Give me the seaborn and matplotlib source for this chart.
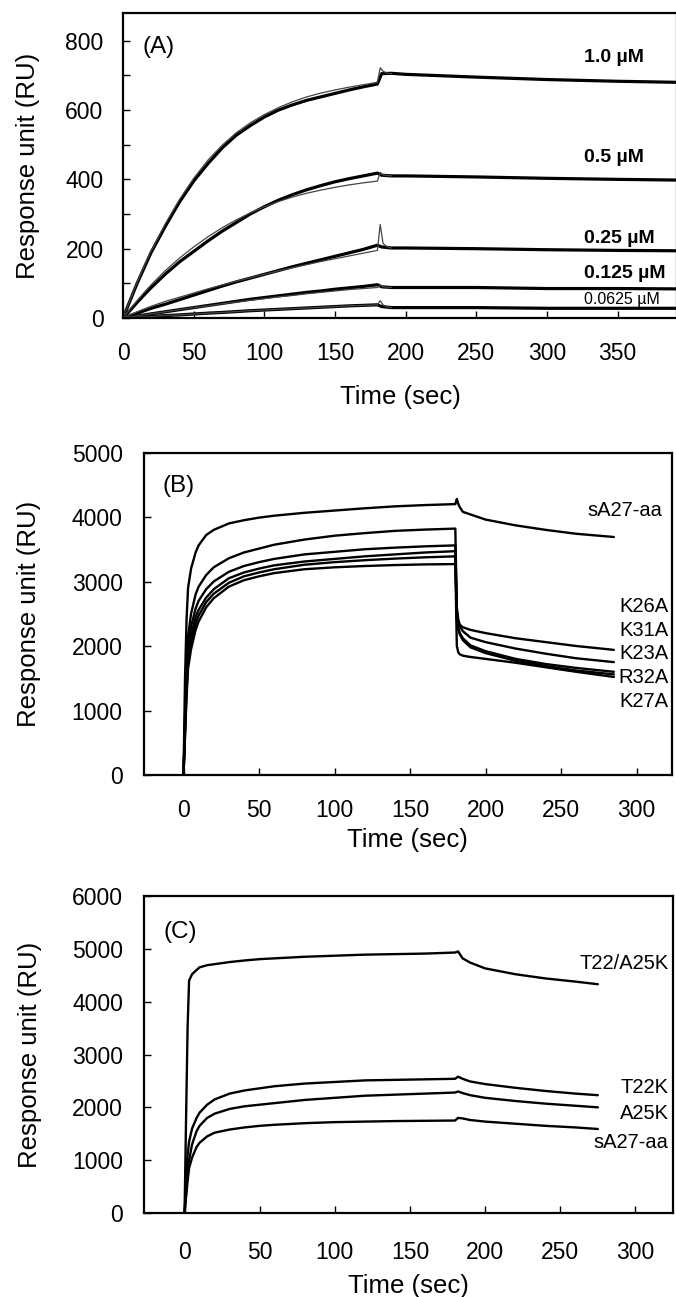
import matplotlib
matplotlib.use("Agg")
import matplotlib.pyplot as plt
import seaborn as sns
from matplotlib.ticker import MultipleLocator

# ---- panel A: concentration series (thick = sensorgram, thin = fit) ----
a_time = [0, 5, 10, 15, 20, 30, 40, 50, 60, 70, 80, 90, 100, 110, 120, 130, 140,
          150, 160, 170, 180, 183, 190, 200, 250, 300, 350, 392]
a_1000 = [0, 50, 100, 145, 190, 265, 335, 395, 445, 490, 527, 555, 580, 600, 615, 628,
          638, 648, 658, 667, 675, 705, 706, 703, 695, 688, 683, 680]
a_500 = [0, 22, 45, 67, 88, 127, 162, 192, 222, 250, 275, 300, 321, 340, 356, 370,
         382, 393, 402, 410, 418, 412, 410, 410, 407, 403, 400, 398]
a_250 = [0, 7, 14, 21, 28, 40, 53, 66, 79, 92, 104, 115, 126, 137, 148, 158,
         168, 178, 188, 198, 210, 205, 202, 202, 200, 197, 195, 194]
a_125 = [0, 3, 6, 9, 12, 18, 24, 30, 36, 42, 48, 54, 59, 64, 69, 74,
         78, 83, 87, 91, 96, 90, 88, 88, 88, 85, 85, 84]
a_0625 = [0, 1, 2, 3, 4.5, 7, 9, 11.5, 14, 16, 18.5, 21, 23, 25, 27, 29,
          31, 33, 35, 36.5, 38, 33, 30, 30, 30, 28, 28, 28]

a_fit_time = [0, 5, 10, 15, 20, 30, 40, 50, 60, 70, 80, 90, 100, 110, 120, 130, 140,
              150, 160, 170, 180, 182, 184, 187, 190]
a_fit_1000 = [0, 52, 103, 150, 194, 272, 342, 403, 455, 498, 534, 563, 587, 607, 624,
              638, 649, 658, 666, 673, 680, 722, 712, 706, 705]
a_fit_500 = [0, 25, 50, 74, 96, 137, 173, 205, 234, 260, 283, 303, 321, 336, 349,
             360, 369, 377, 384, 390, 395, 420, 413, 411, 410]
a_fit_250 = [0, 9, 18, 26, 34, 48, 60, 72, 84, 95, 106, 116, 126, 136, 145,
             154, 163, 171, 179, 187, 195, 270, 215, 205, 202]
a_fit_125 = [0, 3, 6, 9, 12, 18, 24, 30, 35, 41, 46, 51, 56, 61, 65,
             70, 74, 78, 82, 85, 88, 95, 90, 89, 88]
a_fit_0625 = [0, 1, 2, 3, 4.5, 7, 9, 11.5, 14, 16, 18.5, 21, 23, 25, 27,
              29, 31, 33, 35, 36.5, 38, 50, 38, 32, 30]

a_labels = ["1.0 \u00b5M", "0.5 \u00b5M", "0.25 \u00b5M", "0.125 \u00b5M", "0.0625 \u00b5M"]
a_label_y = [751, 463, 230, 127, 52]

# ---- panel B: alanine mutants ----
b_time = [0, 1, 2, 3, 5, 8, 10, 15, 20, 30, 40, 50, 60, 80, 100, 120, 140, 160, 180,
          181, 182, 183, 185, 190, 200, 220, 240, 260, 285]
b_sa27 = [0, 1500, 2400, 2900, 3200, 3450, 3560, 3720, 3800, 3900, 3950, 3990, 4020,
          4065, 4100, 4135, 4165, 4185, 4200,
          4280, 4200, 4150, 4080, 4040, 3960, 3870, 3800, 3740, 3690]
b_k26a = [0, 900, 1700, 2150, 2500, 2800, 2920, 3100, 3220, 3360, 3450, 3510, 3570,
          3650, 3710, 3750, 3785, 3805, 3820,
          2600, 2400, 2330, 2290, 2250, 2200, 2120, 2060, 2000, 1940]
b_k31a = [0, 800, 1550, 2000, 2300, 2580, 2700, 2880, 3000, 3150, 3240, 3300, 3350,
          3420, 3460, 3500, 3525, 3545, 3560,
          2550, 2380, 2300, 2230, 2130, 2060, 1960, 1880, 1810, 1750]
b_k23a = [0, 700, 1400, 1850, 2150, 2450, 2560, 2750, 2880, 3050, 3140, 3200, 3250,
          3310, 3350, 3390, 3420, 3450, 3470,
          2450, 2280, 2200, 2120, 2010, 1920, 1800, 1720, 1660, 1600]
b_r32a = [0, 650, 1300, 1750, 2050, 2350, 2470, 2680, 2810, 2980, 3080, 3140, 3190,
          3260, 3300, 3330, 3355, 3375, 3390,
          2400, 2250, 2180, 2090, 1980, 1890, 1770, 1690, 1620, 1560]
b_k27a = [0, 600, 1200, 1650, 1950, 2250, 2380, 2600, 2740, 2920, 3020, 3080, 3130,
          3190, 3220, 3240, 3255, 3265, 3270,
          2000, 1900, 1870, 1850, 1830, 1800, 1740, 1670, 1600, 1520]
b_labels = ["sA27-aa", "K26A", "K31A", "K23A", "R32A", "K27A"]
b_label_y = [4100, 2605, 2248, 1876, 1504, 1132]

# ---- panel C: lysine substitutions ----
c_time = [0, 1, 2, 3, 5, 8, 10, 15, 20, 30, 40, 50, 60, 80, 100, 120, 140, 160, 180,
          182, 185, 190, 200, 220, 240, 260, 275]
c_t22a25k = [0, 1800, 3500, 4400, 4520, 4600, 4650, 4690, 4710, 4750, 4780, 4805, 4820,
             4850, 4870, 4890, 4900, 4910, 4930,
             4950, 4820, 4740, 4630, 4520, 4440, 4380, 4330]
c_t22k = [0, 600, 1100, 1350, 1600, 1800, 1900, 2050, 2150, 2260, 2320, 2360, 2400,
          2450, 2480, 2510, 2520, 2530, 2540,
          2580, 2540, 2490, 2440, 2370, 2310, 2260, 2230]
c_a25k = [0, 400, 800, 1000, 1300, 1550, 1650, 1800, 1880, 1970, 2020, 2050, 2080,
          2140, 2180, 2220, 2240, 2260, 2280,
          2300, 2270, 2230, 2180, 2120, 2070, 2030, 2000]
c_sa27 = [0, 300, 600, 850, 1050, 1250, 1330, 1450, 1520, 1580, 1620, 1650, 1670,
          1700, 1720, 1730, 1740, 1745, 1750,
          1800, 1790, 1760, 1730, 1690, 1650, 1620, 1590]
c_labels = ["T22/A25K", "T22K", "A25K", "sA27-aa"]
c_label_y = [4720, 2380, 1880, 1340]

sns.set_theme(style="ticks")
plt.rcParams['font.family'] = ['Liberation Sans', 'DejaVu Sans']
plt.rcParams['text.color'] = 'black'
plt.rcParams['axes.labelcolor'] = 'black'
plt.rcParams['xtick.color'] = 'black'
plt.rcParams['ytick.color'] = 'black'
plt.rcParams['xtick.direction'] = 'in'
plt.rcParams['ytick.direction'] = 'in'

W, H = 676, 1297
fig = plt.figure(figsize=(W / 100, H / 100), dpi=100)


def make_axes(left, top, right, bottom):
    return fig.add_axes([left / W, 1 - bottom / H, (right - left) / W, (bottom - top) / H])


def style(ax, label_x, label_y):
    for s in ax.spines.values():
        s.set_color('black')
        s.set_linewidth(1.6)
    ax.tick_params(axis='both', which='both', colors='black', labelcolor='black',
                   labelsize=16.5, width=1.0, length=5)
    ax.set_xlabel("Time (sec)", fontsize=18.5, color='black')
    ax.set_ylabel("Response unit (RU)", fontsize=18.5, color='black')
    ax.xaxis.set_label_coords(0.5, label_x)
    ax.yaxis.set_label_coords(label_y, 0.5)


# Panel A
axA = make_axes(123, 13, 677, 318)
for y in [a_1000, a_500, a_250, a_125, a_0625]:
    sns.lineplot(x=a_time, y=y, ax=axA, color='black', linewidth=2.3, estimator=None)
for y in [a_fit_1000, a_fit_500, a_fit_250, a_fit_125, a_fit_0625]:
    sns.lineplot(x=a_fit_time, y=y, ax=axA, color='#444444', linewidth=0.9, estimator=None)
axA.set_xlim(0, 392)
axA.set_ylim(0, 880)
axA.xaxis.set_major_locator(MultipleLocator(50))
axA.yaxis.set_major_locator(MultipleLocator(200))
axA.yaxis.set_minor_locator(MultipleLocator(100))
style(axA, -0.22, -0.15)
axA.tick_params(axis='x', pad=17)
axA.tick_params(axis='y', pad=14)
for i, (txt, yy) in enumerate(zip(a_labels, a_label_y)):
    if i == 4:
        axA.text(326, yy, txt, fontsize=11.5, va='center', ha='left')
    else:
        axA.text(326, yy, txt, fontsize=14, fontweight='bold', va='center', ha='left')
axA.text(0.036, 0.889, "(A)", transform=axA.transAxes, fontsize=17.5, va='center', ha='left')

# Panel B
axB = make_axes(143.5, 452.5, 672, 775)
for y in [b_sa27, b_k26a, b_k31a, b_k23a, b_r32a, b_k27a]:
    sns.lineplot(x=b_time, y=y, ax=axB, color='black', linewidth=1.7, estimator=None)
axB.set_xlim(-26.5, 323.5)
axB.set_ylim(0, 5000)
axB.set_xticks(range(0, 301, 50))
axB.set_yticks(range(0, 5001, 1000))
style(axB, -0.165, -0.193)
axB.tick_params(axis='x', pad=17)
axB.tick_params(axis='y', pad=15)
for txt, yy in zip(b_labels, b_label_y):
    axB.text(317 if txt == "sA27-aa" else 321, yy, txt, fontsize=14.5, va='center', ha='right')
axB.text(0.036, 0.895, "(B)", transform=axB.transAxes, fontsize=17.5, va='center', ha='left')

# Panel C
axC = make_axes(144, 896, 673, 1213)
for y in [c_t22a25k, c_t22k, c_a25k, c_sa27]:
    sns.lineplot(x=c_time, y=y, ax=axC, color='black', linewidth=1.7, estimator=None)
axC.set_xlim(-27, 325)
axC.set_ylim(0, 6000)
axC.set_xticks(range(0, 301, 50))
axC.set_yticks(range(0, 6001, 1000))
style(axC, -0.192, -0.193)
axC.tick_params(axis='x', pad=20)
axC.tick_params(axis='y', pad=15)
for txt, yy in zip(c_labels, c_label_y):
    axC.text(322, yy, txt, fontsize=14.5, va='center', ha='right')
axC.text(0.036, 0.886, "(C)", transform=axC.transAxes, fontsize=17.5, va='center', ha='left')

fig.savefig("out.png", dpi=100, facecolor='white')
